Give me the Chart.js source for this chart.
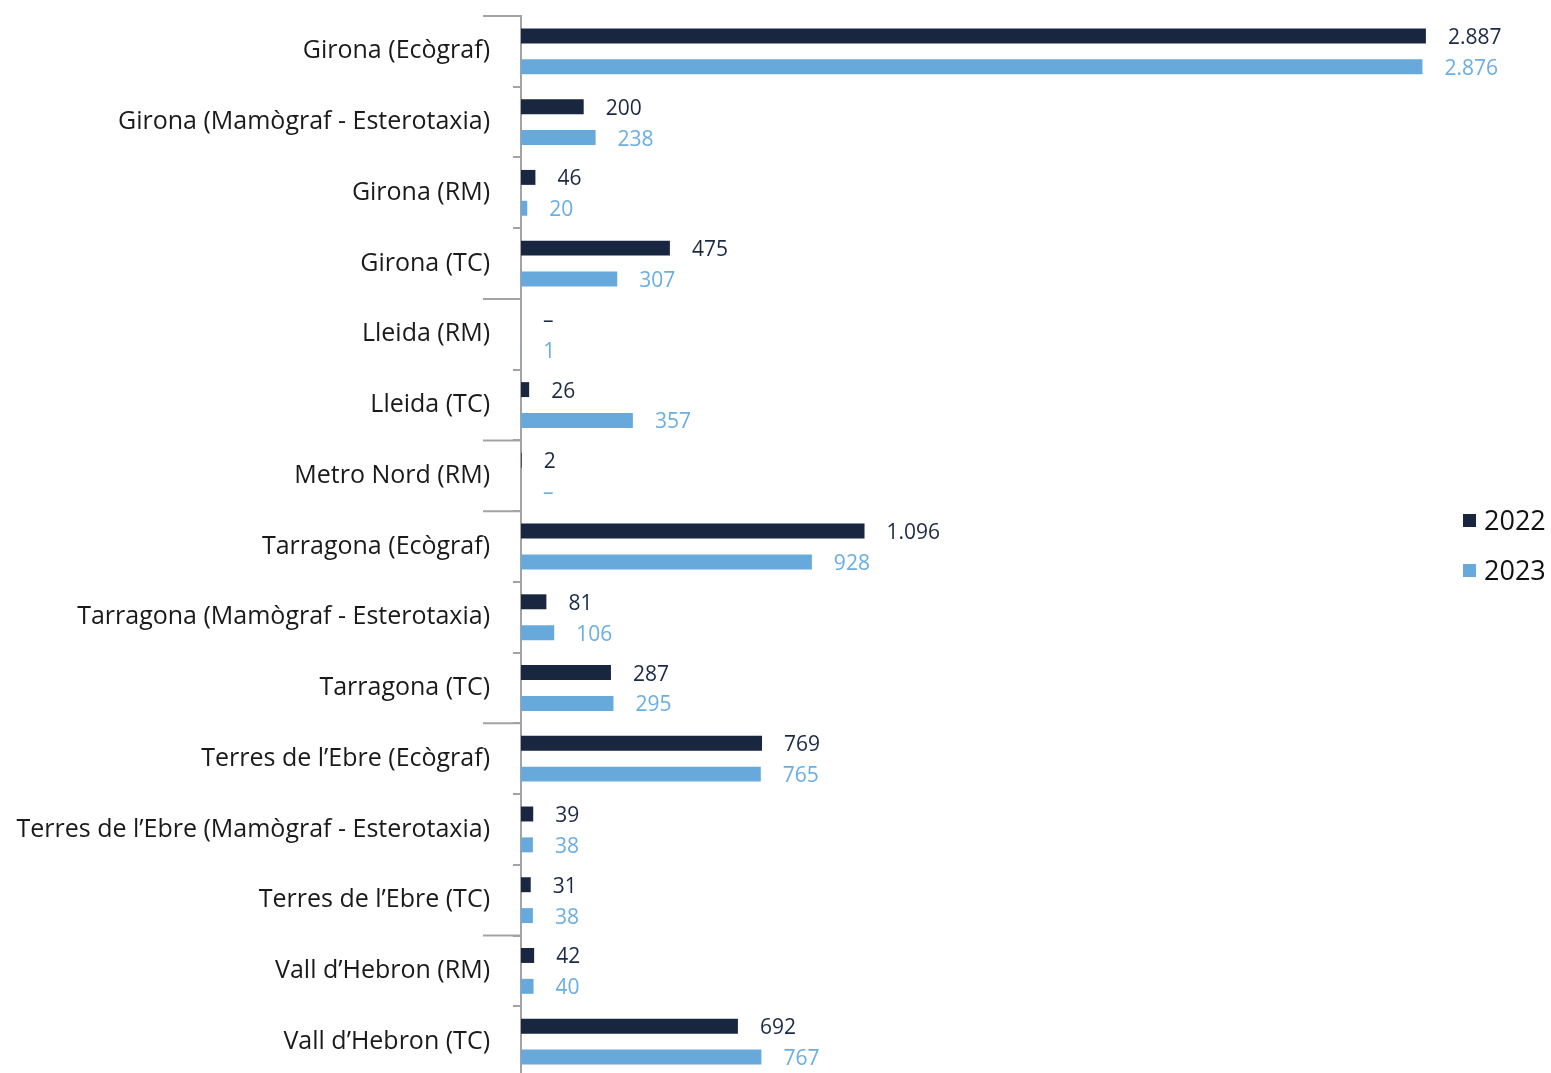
<!DOCTYPE html>
<html>
<head>
<meta charset="utf-8">
<script src="https://cdn.jsdelivr.net/npm/chart.js@4/dist/chart.umd.min.js"></script>
<style>
html,body{margin:0;padding:0;background:#fff;overflow:hidden;}
#wrap{width:1551px;height:1073px;position:relative;overflow:hidden;}
#c{position:absolute;left:0;top:-22px;}
</style>
</head>
<body>
<div id="wrap"><canvas id="c" width="1551" height="1137"></canvas></div>
<script>
const categories = [
  "Girona (Ecògraf)",
  "Girona (Mamògraf - Esterotaxia)",
  "Girona (RM)",
  "Girona (TC)",
  "Lleida (RM)",
  "Lleida (TC)",
  "Metro Nord (RM)",
  "Tarragona (Ecògraf)",
  "Tarragona (Mamògraf - Esterotaxia)",
  "Tarragona (TC)",
  "Terres de l’Ebre (Ecògraf)",
  "Terres de l’Ebre (Mamògraf - Esterotaxia)",
  "Terres de l’Ebre (TC)",
  "Vall d’Hebron (RM)",
  "Vall d’Hebron (TC)"
];
const values2022 = [2887, 200, 46, 475, 0, 26, 2, 1096, 81, 287, 769, 39, 31, 42, 692];
const values2023 = [2876, 238, 20, 307, 1, 357, 0, 928, 106, 295, 765, 38, 38, 40, 767];
const seriesNames = ["2022", "2023"];
const groupStarts = [0, 4, 6, 7, 10, 13];

const DARK = "#182640";
const LIGHT = "#68a9dc";
const LABEL_DARK = "#1b2a44";
const LABEL_LIGHT = "#6aaee3";
const FONT = "'Open Sans', 'Liberation Sans', Arial, sans-serif";

function fmt(v){
  if (v === 0) return "–";
  return v.toString().replace(/\B(?=(\d{3})+(?!\d))/g, ".");
}

const valueLabels = {
  id: "valueLabels",
  afterDatasetsDraw(chart){
    const ctx = chart.ctx;
    ctx.save();
    ctx.font = "21px " + FONT;
    ctx.textBaseline = "middle";
    ctx.textAlign = "left";
    chart.data.datasets.forEach((ds, di) => {
      const meta = chart.getDatasetMeta(di);
      ctx.fillStyle = di === 0 ? LABEL_DARK : LABEL_LIGHT;
      meta.data.forEach((bar, i) => {
        ctx.fillText(fmt(ds.data[i]), bar.x + 22, bar.y + 2);
      });
    });
    ctx.restore();
  }
};

const groupTicks = {
  id: "groupTicks",
  afterDraw(chart){
    const ctx = chart.ctx;
    const y = chart.scales.y;
    const x0 = chart.chartArea.left;
    ctx.save();
    ctx.strokeStyle = "#a3a3a3";
    ctx.lineWidth = 2;
    groupStarts.forEach(i => {
      let py;
      if (i === 0) py = chart.chartArea.top;
      else py = (y.getPixelForValue(i - 1) + y.getPixelForValue(i)) / 2;
      ctx.beginPath();
      ctx.moveTo(483, py);
      ctx.lineTo(x0, py);
      ctx.stroke();
    });
    ctx.restore();
  }
};

const legendPlugin = {
  id: "customLegend",
  afterDraw(chart){
    const ctx = chart.ctx;
    const off = 22;
    ctx.save();
    ctx.font = "27px " + FONT;
    ctx.textBaseline = "middle";
    ctx.textAlign = "left";
    const items = [[seriesNames[0], DARK, 521], [seriesNames[1], LIGHT, 571]];
    items.forEach(([t, c, yy]) => {
      ctx.fillStyle = c;
      ctx.fillRect(1463, yy + off - 7, 13, 13);
      ctx.fillStyle = "#111";
      ctx.fillText(t, 1484, yy + off + 1);
    });
    ctx.restore();
  }
};

new Chart(document.getElementById("c"), {
  type: "bar",
  data: {
    labels: categories,
    datasets: [
      { label: seriesNames[0], data: values2022, backgroundColor: DARK, categoryPercentage: 0.873, barPercentage: 0.484 },
      { label: seriesNames[1], data: values2023, backgroundColor: LIGHT, categoryPercentage: 0.873, barPercentage: 0.484 }
    ]
  },
  options: {
    indexAxis: "y",
    responsive: false,
    animation: false,
    layout: { padding: { top: 14, bottom: 6, left: 0, right: 111 } },
    plugins: { legend: { display: false }, tooltip: { enabled: false } },
    scales: {
      x: { display: false, min: 0, max: 2932 },
      y: {
        offset: true,
        afterFit(scale){ scale.width = 521; },
        border: { display: true, color: "#a3a3a3", width: 2 },
        grid: { offset: true, drawOnChartArea: false, drawTicks: true, tickLength: 8, color: "#a3a3a3", lineWidth: 2 },
        ticks: { color: "#1a1a1a", font: { family: FONT, size: 25 }, padding: 23 }
      }
    }
  },
  plugins: [valueLabels, groupTicks, legendPlugin]
});
</script>
</body>
</html>
